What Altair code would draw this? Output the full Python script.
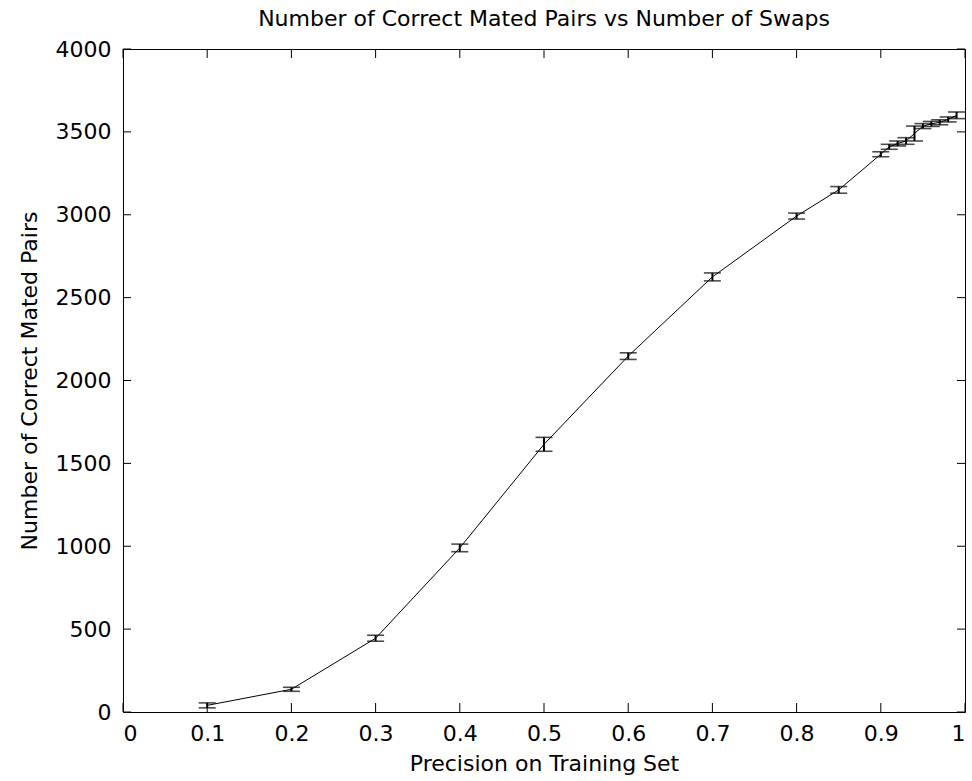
import altair as alt
import pandas as pd

# Mean number of correct mated pairs at each training-set precision, with +/- error
precision = [0.1, 0.2, 0.3, 0.4, 0.5, 0.6, 0.7, 0.8, 0.85,
             0.90, 0.91, 0.92, 0.93, 0.94, 0.95, 0.96, 0.97, 0.98, 0.99]
pairs = [40, 137, 445, 990, 1615, 2147, 2625, 2992, 3150,
         3365, 3410, 3430, 3445, 3490, 3535, 3548, 3558, 3575, 3600]
err = [15, 12, 18, 23, 42, 20, 24, 18, 20,
       15, 15, 15, 20, 45, 15, 15, 15, 15, 20]

x_ticks = [0, 0.1, 0.2, 0.3, 0.4, 0.5, 0.6, 0.7, 0.8, 0.9, 1.0]
y_ticks = [0, 500, 1000, 1500, 2000, 2500, 3000, 3500, 4000]

W, H = 842, 663
FONT = "DejaVu Sans"

df = pd.DataFrame({"precision": precision, "pairs": pairs, "err": err})
df["lo"] = df["pairs"] - df["err"]
df["hi"] = df["pairs"] + df["err"]

xt = pd.DataFrame({"t": x_ticks})
yt = pd.DataFrame({"t": y_ticks})

xscale = alt.Scale(domain=[0, 1], nice=False, zero=False)
yscale = alt.Scale(domain=[0, 4000], nice=False)

xaxis = alt.Axis(values=x_ticks, format="~g", title="Precision on Training Set",
                 domain=False, ticks=False, grid=False, labelPadding=11,
                 titlePadding=9)
yaxis = alt.Axis(values=y_ticks, format="d", title="Number of Correct Mated Pairs",
                 domain=False, ticks=False, grid=False, labelPadding=12,
                 titlePadding=14)

base = alt.Chart(df)

line = base.mark_line(color="black", strokeWidth=1).encode(
    x=alt.X("precision:Q", scale=xscale, axis=xaxis),
    y=alt.Y("pairs:Q", scale=yscale, axis=yaxis),
)

bars = base.mark_rule(color="black", strokeWidth=2).encode(
    x="precision:Q", y="lo:Q", y2="hi:Q"
)
cap_lo = base.mark_tick(color="black", orient="horizontal", size=17, thickness=1.6).encode(
    x="precision:Q", y="lo:Q"
)
cap_hi = base.mark_tick(color="black", orient="horizontal", size=17, thickness=1.6).encode(
    x="precision:Q", y="hi:Q"
)

# inward-pointing tick marks on all four sides of the box
tick_bottom = alt.Chart(xt).mark_rule(color="black", strokeWidth=1).encode(
    x="t:Q", y=alt.value(H), y2=alt.value(H - 9))
tick_top = alt.Chart(xt).mark_rule(color="black", strokeWidth=1).encode(
    x="t:Q", y=alt.value(0), y2=alt.value(9))
tick_left = alt.Chart(yt).mark_rule(color="black", strokeWidth=1).encode(
    y="t:Q", x=alt.value(0), x2=alt.value(8))
tick_right = alt.Chart(yt).mark_rule(color="black", strokeWidth=1).encode(
    y="t:Q", x=alt.value(W), x2=alt.value(W - 8))

chart = alt.layer(
    tick_bottom, tick_top, tick_left, tick_right, line, bars, cap_lo, cap_hi
).properties(
    width=W,
    height=H,
    title=alt.TitleParams("Number of Correct Mated Pairs vs Number of Swaps",
                          font=FONT, fontSize=22, fontWeight="normal",
                          color="black", anchor="middle", offset=7),
    autosize=alt.AutoSizeParams(type="none"),
    padding={"left": 123, "top": 49, "right": 7, "bottom": 69},
    background="white",
).configure_view(
    stroke="black", strokeWidth=1
).configure_axis(
    labelFont=FONT, labelFontSize=22, labelColor="black",
    titleFont=FONT, titleFontSize=22, titleFontWeight="normal", titleColor="black",
)

chart.save("out.html", embed_options={"renderer": "svg", "actions": False})
